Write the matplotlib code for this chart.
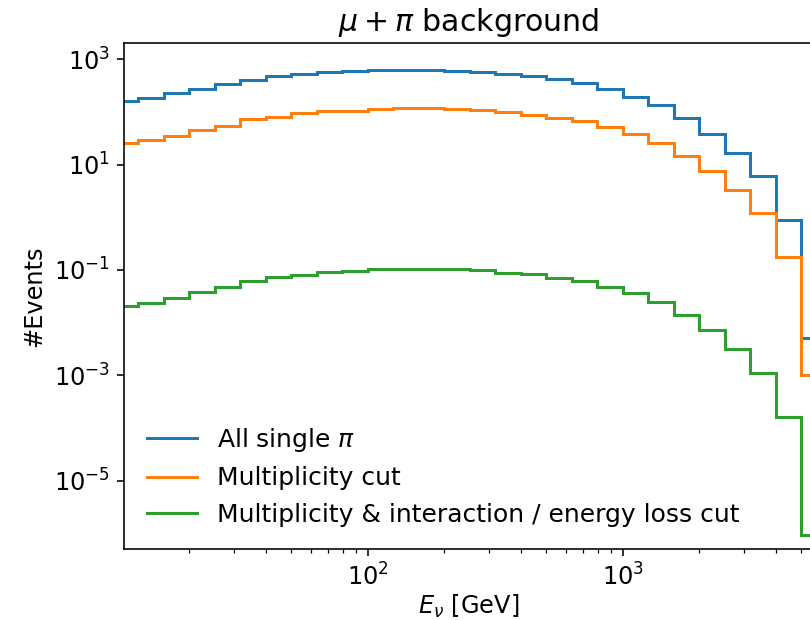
import numpy as np
import matplotlib.pyplot as plt
from matplotlib import ticker

plt.rcParams['font.size'] = 12

# energy binning: 28 log bins from 10 GeV to ~6.3 TeV
edges = np.logspace(1, 3.8, 29)

all_single = [157, 185, 229, 275, 339, 405, 469, 525, 566, 600, 627, 631, 631, 600,
              566, 525, 468, 412, 351, 274, 195, 132, 76.9, 38.3, 16.7, 6.03, 0.869, 0.0050]
mult_cut = [25.5, 29.0, 35.1, 45.7, 53.6, 71.6, 81.3, 92.9, 103, 104, 112, 116, 116, 111,
            106, 98.6, 87.7, 76.9, 66.5, 51.9, 37.8, 25.5, 14.8, 7.40, 3.27, 1.20, 0.173, 0.0010]
mult_int_cut = [0.0208, 0.0238, 0.0295, 0.0385, 0.0466, 0.0612, 0.0721, 0.0807, 0.0912,
                0.0942, 0.104, 0.105, 0.105, 0.102, 0.0977, 0.0891, 0.0822, 0.0708, 0.0605,
                0.0479, 0.0358, 0.0242, 0.0139, 0.00711, 0.00310, 0.00111, 0.000163, 9.3e-7]

labels = [r'All single $\pi$', 'Multiplicity cut',
          'Multiplicity & interaction / energy loss cut']

fig = plt.figure(figsize=(810/144, 620/144), dpi=144)
ax = fig.add_axes([0.1535, 0.114, 0.8498, 0.816])

for vals, lab in zip([all_single, mult_cut, mult_int_cut], labels):
    ax.stairs(vals, edges, baseline=None, label=lab, linewidth=1.5)

ax.set_xscale('log')
ax.set_yscale('log')
ax.set_xlim(10**1.046, 10**3.745)
ax.set_ylim(10**-6.301, 10**3.298)
ax.yaxis.set_major_locator(ticker.FixedLocator([1e-5, 1e-3, 1e-1, 1e1, 1e3]))
ax.yaxis.set_minor_locator(ticker.NullLocator())

ax.set_xlabel(r'$E_\nu$ [GeV]', labelpad=1)
ax.set_ylabel('#Events')
ax.set_title(r'$\mu + \pi$ background', fontsize=15)
ax.legend(loc='lower left', frameon=False, fontsize=12.5)

fig.savefig('out.png', dpi=144)
